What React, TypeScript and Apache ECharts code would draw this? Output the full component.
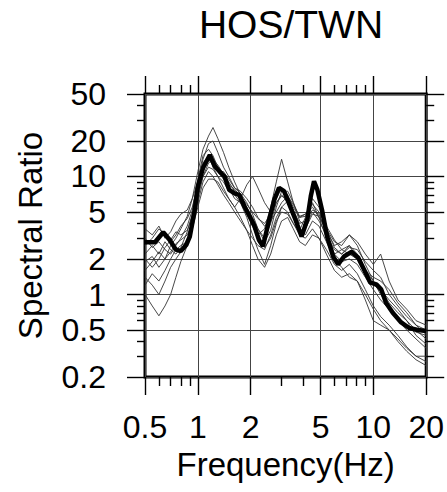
import React, { useEffect, useRef } from "react";
import * as echarts from "echarts";

const TITLE = "HOS/TWN";
const X_NAME = "Frequency(Hz)";
const Y_NAME = "Spectral Ratio";

const X_MAJOR = [0.5, 1, 2, 5, 10, 20];
const X_MINOR = [0.6, 0.7, 0.8, 0.9, 3, 4, 6, 7, 8, 9];
const Y_MAJOR = [0.2, 0.5, 1, 2, 5, 10, 20, 50];
const Y_MINOR = [0.3, 0.4, 0.6, 0.7, 0.8, 0.9, 3, 4, 6, 7, 8, 9, 30, 40];

// mean curve
const MEAN_F = [0.5, 0.57, 0.635, 0.69, 0.75, 0.8, 0.86, 0.9, 0.96, 1.0, 1.07, 1.17, 1.25, 1.33, 1.42, 1.51, 1.62, 1.72, 1.84, 1.97, 2.1, 2.23, 2.35, 2.55, 2.73, 2.9, 3.1, 3.3, 3.6, 3.9, 4.2, 4.4, 4.59, 4.8, 5.1, 5.45, 5.9, 6.3, 6.8, 7.5, 8.2, 8.9, 9.6, 10.4, 11.1, 11.8, 12.9, 14.4, 16, 17.9, 20];
const MEAN_V = [2.77, 2.77, 3.37, 2.91, 2.4, 2.33, 2.64, 3.1, 5.2, 8.2, 11.8, 15.2, 12.2, 11, 10, 7.7, 7.2, 7.0, 5.6, 4.6, 3.8, 2.9, 2.56, 4.3, 6.4, 8.0, 7.5, 5.95, 4.3, 3.1, 4.3, 6.8, 9.1, 7.7, 5.2, 3.1, 2.1, 1.8, 2.1, 2.3, 2.05, 1.6, 1.26, 1.22, 1.1, 0.85, 0.7, 0.58, 0.52, 0.5, 0.49];

// individual curves share one frequency list
const F = [0.5, 0.55, 0.6, 0.65, 0.7, 0.75, 0.8, 0.87, 0.93, 1.0, 1.07, 1.15, 1.22, 1.3, 1.4, 1.5, 1.62, 1.75, 1.9, 2.05, 2.2, 2.4, 2.6, 2.8, 3.0, 3.25, 3.5, 3.8, 4.1, 4.5, 4.9, 5.4, 6.0, 6.6, 7.3, 8.1, 9.0, 10, 11, 12.3, 13.8, 15.5, 17.5, 20];
const CURVE_A = [1.6, 1.9, 2.3, 2.0, 2.6, 3.0, 3.6, 4.6, 6.5, 11, 17, 22, 26, 21, 16, 12, 9, 7, 5.5, 4.5, 3.6, 3.0, 4.0, 6.0, 7.0, 6.0, 4.6, 3.5, 4.5, 6.0, 4.5, 3.0, 2.2, 2.4, 2.6, 2.2, 1.6, 1.3, 1.1, 0.85, 0.7, 0.6, 0.5, 0.42];
const CURVE_B = [2.2, 2.6, 2.2, 2.8, 2.4, 2.2, 2.5, 3.4, 4.8, 7.5, 12, 14, 13, 11, 9.5, 8, 6.5, 6, 5, 4.2, 3.2, 3.6, 5.5, 9, 14, 9, 6, 4.2, 3.8, 5, 4.2, 3.2, 2.4, 2.2, 2.6, 2.0, 1.5, 1.2, 1.1, 0.9, 0.75, 0.6, 0.45, 0.38];
const CURVE_C = [3.6, 3.2, 3.8, 3.0, 3.4, 4.2, 4.8, 5.2, 6.5, 9, 13, 15, 12, 10, 8, 6.5, 5.5, 6.5, 8.5, 10, 8, 6, 5, 6.5, 8, 7, 5.5, 4.5, 4.8, 5.5, 4.5, 3.5, 2.6, 2.8, 3.2, 2.6, 1.8, 1.3, 1.0, 0.8, 0.62, 0.55, 0.48, 0.45];
const CURVE_D = [1.0, 0.8, 0.66, 0.8, 1.0, 1.4, 1.9, 2.6, 3.8, 6, 9, 11, 10, 8.5, 7, 6, 5, 4.2, 3.5, 3.0, 2.6, 2.4, 3.2, 4.5, 5.5, 5.0, 4.0, 3.2, 3.0, 3.6, 3.0, 2.4, 1.8, 1.6, 1.8, 1.5, 1.1, 0.8, 0.65, 0.55, 0.45, 0.36, 0.3, 0.27];
const CURVE_E = [1.4, 1.2, 1.0, 1.3, 1.7, 2.0, 2.3, 3.0, 4.2, 7, 10, 12, 11.5, 10, 9, 7.5, 7, 6, 4.5, 3.2, 2.4, 1.8, 2.6, 4, 5.5, 6.2, 5, 3.6, 3.2, 4.2, 3.8, 2.8, 2.0, 1.7, 1.4, 1.3, 1.0, 0.75, 0.6, 0.5, 0.4, 0.33, 0.28, 0.25];
const CURVE_F = [2.6, 3.0, 3.6, 3.2, 2.8, 3.2, 3.8, 4.4, 5.5, 8.5, 14, 19, 20, 16, 12, 10, 8, 7.2, 6, 4.8, 3.6, 2.8, 3.5, 5.5, 7.5, 7.5, 6, 4.5, 4.6, 6.5, 5.5, 3.6, 2.5, 2.2, 2.5, 2.4, 1.9, 1.6, 1.4, 1.0, 0.8, 0.65, 0.55, 0.5];
const CURVE_G = [1.9, 2.1, 1.7, 2.0, 2.3, 2.7, 2.9, 3.2, 4.0, 6.5, 10, 13, 14, 12.5, 10.5, 9, 7.5, 6.5, 5.0, 3.8, 3.0, 2.5, 3.0, 4.2, 5.0, 4.8, 4.0, 3.4, 3.6, 4.8, 4.6, 3.6, 2.8, 2.6, 3.2, 2.8, 2.2, 1.8, 2.2, 1.3, 0.9, 0.75, 0.6, 0.55];
const CURVE_H = [1.2, 1.5, 1.3, 1.6, 2.0, 2.4, 2.6, 2.8, 3.6, 5.5, 8, 9.5, 9.5, 9, 7.5, 6.5, 5.5, 4.5, 3.5, 2.6, 2.0, 1.7, 2.2, 3.2, 4.2, 4.5, 3.6, 2.8, 2.6, 3.2, 3.0, 2.2, 1.6, 1.4, 1.5, 1.3, 0.9, 0.6, 0.55, 0.5, 0.42, 0.35, 0.3, 0.3];
const CURVE_I = [3.0, 2.5, 2.8, 2.4, 2.2, 2.6, 3.0, 3.8, 5.2, 9.5, 15, 17, 15, 12, 10, 8.5, 7.8, 6.8, 5.8, 5.0, 4.4, 4.0, 4.8, 6.0, 6.8, 6.5, 5.2, 4.0, 4.2, 5.2, 4.8, 3.4, 2.2, 1.9, 2.0, 1.8, 1.4, 1.1, 0.9, 0.75, 0.6, 0.5, 0.42, 0.35];
const CURVE_J = [2.0, 1.7, 2.0, 2.5, 2.9, 3.4, 3.2, 3.5, 4.6, 8, 12, 14, 12.5, 11, 11, 9.5, 8, 7.5, 6.5, 5.5, 4.5, 3.8, 4.2, 5.0, 6.0, 6.8, 5.8, 4.6, 4.8, 5.8, 5.0, 3.8, 2.9, 2.4, 2.2, 2.0, 1.6, 1.4, 1.3, 1.1, 0.85, 0.7, 0.55, 0.46];
const CURVES = [CURVE_A, CURVE_B, CURVE_C, CURVE_D, CURVE_E, CURVE_F, CURVE_G, CURVE_H, CURVE_I, CURVE_J];

const FONT = "Liberation Sans, Arial, Helvetica, sans-serif";

function fmt(v: number) {
  return String(Math.round(v * 1000) / 1000);
}

export default function App() {
  const ref = useRef<HTMLDivElement>(null);
  useEffect(() => {
    if (!ref.current) return;
    const chart = echarts.init(ref.current, undefined, { renderer: "svg" });
    const tickStyle = { color: "#000", width: 1.4 };
    const baseAxis = (pos: string, ticks: number[], len: number, labels: boolean, split: boolean, isX: boolean) => ({
      type: "log",
      logBase: 10,
      min: isX ? 0.5 : 0.2,
      max: isX ? 20 : 50,
      position: pos,
      axisLine: { show: false, onZero: false },
      axisTick: { show: true, inside: false, length: len, customValues: ticks, lineStyle: tickStyle },
      axisLabel: labels
        ? {
            show: true,
            customValues: ticks,
            formatter: (v: number) => fmt(v),
            fontFamily: FONT,
            fontSize: 32,
            color: "#000",
            margin: isX ? 34 : 39,
          }
        : { show: false },
      splitLine: split ? { show: true, lineStyle: { color: "#444", width: 1 } } : { show: false },
      minorTick: { show: false },
      minorSplitLine: { show: false },
    });

    const xAxes: any[] = [
      {
        ...baseAxis("bottom", X_MAJOR, 18, true, true, true),
        name: X_NAME,
        nameLocation: "middle",
        nameGap: 70,
        nameTextStyle: { fontFamily: FONT, fontSize: 33, color: "#000" },
      },
      baseAxis("bottom", X_MINOR, 9, false, false, true),
      baseAxis("top", X_MAJOR, 18, false, false, true),
      baseAxis("top", X_MINOR, 9, false, false, true),
    ];
    const yAxes: any[] = [
      {
        ...baseAxis("left", Y_MAJOR, 18, true, true, false),
        name: Y_NAME,
        nameLocation: "middle",
        nameGap: 98,
        nameTextStyle: { fontFamily: FONT, fontSize: 33, color: "#000" },
      },
      baseAxis("left", Y_MINOR, 8, false, false, false),
      baseAxis("right", Y_MAJOR, 18, false, false, false),
      baseAxis("right", Y_MINOR, 8, false, false, false),
    ];

    const series: any[] = CURVES.map((c, i) => ({
      type: "line",
      name: "c" + i,
      xAxisIndex: 0,
      yAxisIndex: 0,
      showSymbol: false,
      symbol: "none",
      lineStyle: { color: "#333", width: 0.9 },
      data: F.map((f, j) => [f, c[j]]),
      z: 2,
    }));
    series.push({
      type: "line",
      name: "mean",
      xAxisIndex: 0,
      yAxisIndex: 0,
      showSymbol: false,
      symbol: "none",
      lineStyle: { color: "#000", width: 4.5 },
      data: MEAN_F.map((f, j) => [f, MEAN_V[j]]),
      z: 3,
    });

    chart.setOption({
      animation: false,
      backgroundColor: "#fff",
      title: {
        text: TITLE,
        left: 286,
        top: 0,
        textAlign: "center",
        textStyle: { fontFamily: FONT, fontSize: 39, fontWeight: "normal", color: "#000" },
      },
      grid: {
        left: 145,
        top: 94,
        width: 283,
        height: 283,
        show: true,
        borderColor: "#000",
        borderWidth: 3,
        backgroundColor: "transparent",
        containLabel: false,
      },
      xAxis: xAxes,
      yAxis: yAxes,
      series,
    });
    return () => chart.dispose();
  }, []);
  return <div ref={ref} style={{ width: 447, height: 492, position: "absolute", left: 0, top: 0 }} />;
}
